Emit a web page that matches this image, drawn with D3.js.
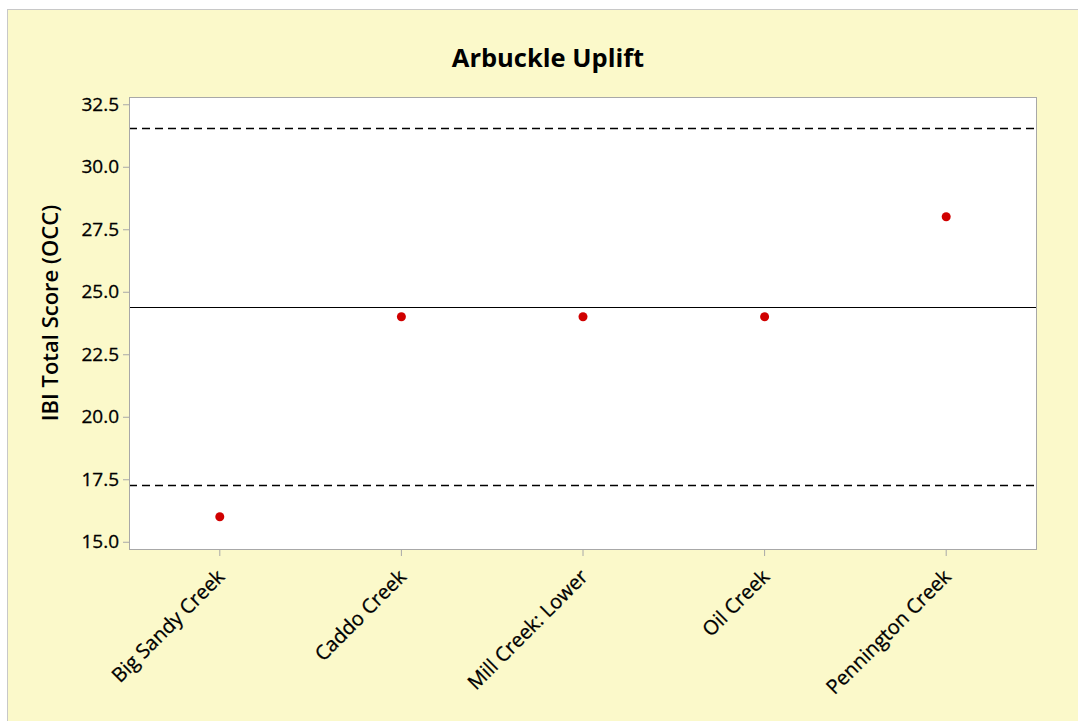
<!DOCTYPE html>
<html>
<head>
<meta charset="utf-8">
<script src="https://cdn.jsdelivr.net/npm/d3@7"></script>
<style>
  html, body { margin: 0; padding: 0; background: #ffffff; overflow: hidden; }
  svg text { font-family: "Open Sans", "Noto Sans", sans-serif; fill: #000; }
</style>
</head>
<body>
<svg id="chart" width="1078" height="721"></svg>
<script>
// Sites and their IBI total scores
const sites = ["Big Sandy Creek", "Caddo Creek", "Mill Creek: Lower", "Oil Creek", "Pennington Creek"];
const scores = [16, 24, 24, 24, 28];
const yTicks = [15.0, 17.5, 20.0, 22.5, 25.0, 27.5, 30.0, 32.5];
// Reference lines: upper limit, centre, lower limit
const upperLimit = 31.53;
const centreLine = 24.4;
const lowerLimit = 17.27;

const svg = d3.select("#chart");
const W = 1078, H = 721;
const plot = { left: 129, top: 97, right: 1037, bottom: 550 };
const fontStack = "'Open Sans', 'Noto Sans', sans-serif";

// Outer panel (runs off the right and bottom edges)
svg.append("rect")
  .attr("x", 7.5).attr("y", 9.5)
  .attr("width", W + 10).attr("height", H + 10)
  .attr("fill", "#fbf9ca")
  .attr("stroke", "#c8c8c8").attr("stroke-width", 1);

// Plot area
svg.append("rect")
  .attr("x", plot.left).attr("y", plot.top)
  .attr("width", plot.right - plot.left).attr("height", plot.bottom - plot.top)
  .attr("fill", "#ffffff");

const x = d3.scaleBand().domain(sites).range([plot.left, plot.right]).padding(0);
const y = d3.scaleLinear().domain([14.67, 32.79]).range([plot.bottom, plot.top]);

// Reference lines
const refs = [
  { v: upperLimit, dash: "8,5" },
  { v: centreLine, dash: null },
  { v: lowerLimit, dash: "8,5" }
];
svg.append("g").selectAll("line").data(refs).join("line")
  .attr("x1", plot.left).attr("x2", plot.right)
  .attr("y1", d => Math.round(y(d.v)) + 0.5).attr("y2", d => Math.round(y(d.v)) + 0.5)
  .attr("stroke", "#000")
  .attr("stroke-width", d => d.dash ? 1.6 : 1)
  .attr("stroke-dasharray", d => d.dash);

// Plot frame
svg.append("rect")
  .attr("x", plot.left + 0.5).attr("y", plot.top + 0.5)
  .attr("width", plot.right - plot.left - 1).attr("height", plot.bottom - plot.top - 1)
  .attr("fill", "none").attr("stroke", "#a8a8a8").attr("stroke-width", 1);

// Y axis
const yAxis = svg.append("g")
  .attr("transform", `translate(${plot.left},0)`)
  .call(d3.axisLeft(y).tickValues(yTicks).tickFormat(d3.format(".1f")).tickSizeOuter(0).tickSize(6).tickPadding(4));
yAxis.select(".domain").remove();
yAxis.selectAll(".tick line").attr("stroke", "#a8a8a8");
yAxis.selectAll(".tick text")
  .attr("font-size", 19).attr("font-family", fontStack).attr("fill", "#000")
  .attr("stroke", "#000").attr("stroke-width", 0.3);

// X axis
const xAxis = svg.append("g")
  .attr("transform", `translate(0,${plot.bottom})`)
  .call(d3.axisBottom(x).tickSizeOuter(0).tickSize(6));
xAxis.select(".domain").remove();
xAxis.selectAll(".tick line").attr("stroke", "#a8a8a8");
xAxis.selectAll(".tick text")
  .attr("font-size", 20)
  .attr("font-family", fontStack)
  .attr("fill", "#000")
  .attr("stroke", "#000").attr("stroke-width", 0.3)
  .attr("text-anchor", "end")
  .attr("y", 0)
  .attr("dy", null)
  .attr("transform", "translate(6,28) rotate(-45)");

// Points
svg.append("g").selectAll("circle").data(sites).join("circle")
  .attr("cx", d => x(d) + x.bandwidth() / 2)
  .attr("cy", (d, i) => y(scores[i]))
  .attr("r", 4.5)
  .attr("fill", "#d00000");

// Title
svg.append("text")
  .attr("x", 548).attr("y", 67)
  .attr("text-anchor", "middle")
  .attr("font-size", 25.5).attr("font-weight", "bold")
  .text("Arbuckle Uplift");

// Y axis title
svg.append("text")
  .attr("transform", `translate(58,313) rotate(-90)`)
  .attr("text-anchor", "middle")
  .attr("font-size", 22).attr("font-weight", 600)
  .text("IBI Total Score (OCC)");
</script>
</body>
</html>
